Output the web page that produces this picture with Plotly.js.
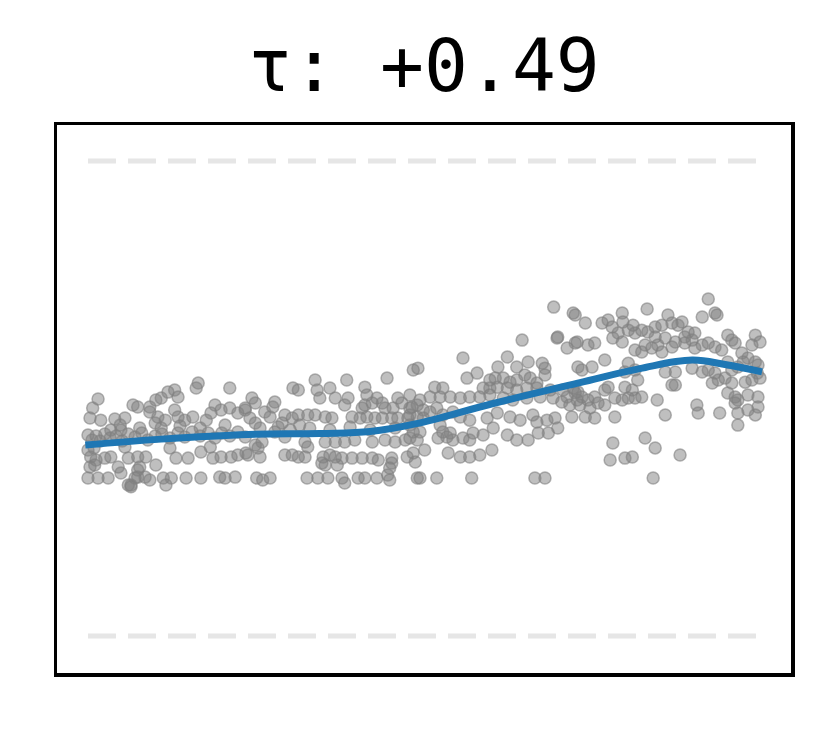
<!DOCTYPE html>
<html>
<head>
<meta charset="utf-8">
<script src="https://cdn.plot.ly/plotly-3.0.1.min.js"></script>
<style>
  html, body { margin: 0; padding: 0; background: #ffffff; }
  #chart { width: 830px; height: 731px; }
</style>
</head>
<body>
<div id="chart"></div>
<script>
// rank (0-100) vs standardized value; dashed guides sit at +/-1
const chartTitle = "τ: +0.49";
const guideLevels = [1, -1];

const earlyPoints = [
  [1.5,-0.002],[0.7,-0.04],[0.3,-0.082],[1.9,-0.091],[4.0,-0.086],[5.5,-0.082],[6.7,-0.027],[7.4,-0.036],[9.2,-0.036],[10.1,-0.006],
  [10.9,0.002],[11.9,0.027],[12.9,0.036],[13.4,0.006],[9.2,-0.057],[10.4,-0.078],[11.5,-0.091],[12.9,-0.048],[13.4,-0.078],[14.4,-0.091],
  [15.6,-0.078],[16.4,0.065],[16.1,0.044],[17.6,-0.091],[18.3,-0.061],[18.9,-0.027],[19.8,-0.048],[21.1,-0.04],[22.3,-0.061],[23.4,-0.048],
  [21.1,0.044],[10.0,-0.103],[10.9,-0.124],[3.4,-0.133],[4.9,-0.133],
  [0,-0.154],[0.6,-0.175],[1.2,-0.158],[1.8,-0.179],[2.5,-0.149],[3.3,-0.166],[4.2,-0.158],[5.1,-0.179],[6.0,-0.149],[7.0,-0.162],
  [8.0,-0.145],[8.9,-0.175],[10.0,-0.158],[11.0,-0.149],[12.2,-0.166],[13.4,-0.145],[14.4,-0.162],[15.5,-0.141],[16.7,-0.158],[17.9,-0.145],
  [18.9,-0.166],[19.9,-0.145],[21.1,-0.158],[22.3,-0.141],[23.4,-0.162],
  [4.8,-0.112],[7.7,-0.124],[13.7,-0.116],[16.7,-0.124],[20.4,-0.112],[5.5,-0.204],[12.2,-0.208],[18.2,-0.204],
  [0,-0.217],[0.9,-0.208],[0.4,-0.246],[1.2,-0.259],[2.5,-0.251],[3.4,-0.246],[0.3,-0.288],[1.0,-0.28],[6.0,-0.251],[7.4,-0.246],
  [8.6,-0.246],[4.5,-0.288],[4.9,-0.314],[7.7,-0.288],[7.4,-0.301],[10.1,-0.28],[13.1,-0.251],[14.9,-0.251],[16.8,-0.225],[18.6,-0.251],
  [19.8,-0.246],[21.3,-0.246],[22.3,-0.238],[23.5,-0.229],
  [0,-0.335],[1.5,-0.335],[3.0,-0.335],[6.4,-0.364],[7.0,-0.335],[7.4,-0.331],[8.5,-0.331],[9.2,-0.343],[11.2,-0.335],[11.6,-0.364],
  [12.4,-0.335],[14.6,-0.335],[16.8,-0.335],[19.6,-0.331],[20.4,-0.335],[21.9,-0.331],[6.0,-0.364],[6.4,-0.372]
];

const midLowPoints = [
  [33.8,0.078],[38.5,0.078],[44.5,0.086],[48.4,0.12],[30.5,0.044],[31.3,0.036],[34.1,0.036],[34.5,0.002],[36.0,0.044],[36.8,0.002],
  [41.2,0.048],[41.5,0.015],[24.4,0.002],[24.9,-0.019],[27.8,-0.015],[27.5,-0.036],[38.7,0.002],[38.2,-0.027],[40.8,-0.04],[41.2,-0.027],
  [42.3,-0.019],[43.0,0.002],[43.8,-0.019],[44.2,-0.04],[46.1,0.002],[46.7,-0.019],[48.2,-0.036],[45.4,-0.04],
  [29.3,-0.069],[30.4,-0.082],[31.3,-0.069],[32.7,-0.069],[33.8,-0.069],[35.3,-0.078],[36.3,-0.082],[39.3,-0.078],[40.5,-0.082],[41.5,-0.078],
  [42.7,-0.082],[43.8,-0.082],[45.2,-0.082],[46.1,-0.082],[47.6,-0.082],[23.4,-0.04],[24.1,-0.082],[24.9,-0.103],[26.3,-0.057],[27.1,-0.078],
  [28.3,-0.12],[28.9,-0.103],
  [25.6,-0.124],[30.1,-0.133],[33.0,-0.124],[36.0,-0.133],[39.0,-0.12],[42.0,-0.133],[45.7,-0.124],[31.5,-0.112],[27.8,-0.141],
  [25.9,-0.183],[29.3,-0.162],[32.3,-0.183],[32.7,-0.204],[35.3,-0.183],[36.8,-0.183],[38.2,-0.183],[39.7,-0.175],[42.3,-0.183],[44.2,-0.175],
  [45.7,-0.183],[47.2,-0.175],[24.9,-0.196],[25.3,-0.208],
  [23.8,-0.238],[25.6,-0.246],[29.3,-0.238],[30.4,-0.238],[31.3,-0.246],[32.3,-0.246],[35.0,-0.246],[36.0,-0.238],[36.8,-0.246],[37.8,-0.251],
  [39.3,-0.251],[40.8,-0.251],[42.3,-0.251],[43.2,-0.259],[45.2,-0.251],[47.5,-0.246],[48.7,-0.267],[34.8,-0.272],[35.3,-0.28],[37.1,-0.28],
  [45.2,-0.272],[44.9,-0.293],[44.6,-0.322],
  [25.1,-0.335],[26.0,-0.343],[27.1,-0.335],[32.6,-0.335],[34.2,-0.335],[35.7,-0.335],[37.8,-0.335],[38.2,-0.356],[40.2,-0.335],[41.2,-0.335],
  [43.0,-0.335],[44.9,-0.343],[49.0,-0.335]
];

const midHighPoints = [
  [64.6,0.246],[69.8,0.255],[71.3,0.213],[72.5,0.234],[55.8,0.171],[62.4,0.175],[61.0,0.133],[49.1,0.128],[63.8,0.133],[65.5,0.154],
  [67.6,0.149],[68.0,0.128],[68.0,0.099],[56.4,0.086],[57.9,0.107],[51.6,0.048],[52.8,0.044],[59.8,0.078],[60.6,0.086],[61.8,0.086],
  [62.8,0.069],[63.8,0.078],[65.0,0.099],[65.8,0.086],[66.8,0.065],[58.8,0.044],[59.8,0.044],[60.9,0.048],[62.4,0.044],[63.8,0.036],
  [65.3,0.044],[66.8,0.044],[68.8,0.036],[70.7,0.036],[72.2,0.044],[72.9,0.027],
  [47.9,0.015],[49.4,-0.006],[50.9,0.006],[52.4,0.006],[53.9,0.006],[55.4,0.002],[56.8,0.006],[58.3,0.006],[59.8,0.015],[61.8,0.002],
  [63.2,-0.006],[65.3,0.002],[67.3,0.006],[69.2,0.002],[71.3,0.006],[72.8,-0.006],
  [47.9,-0.04],[49.0,-0.027],[49.9,-0.048],[50.9,-0.057],[51.9,-0.04],[47.9,-0.069],[49.0,-0.078],[49.9,-0.082],[52.8,-0.069],[54.3,-0.057],
  [55.4,-0.078],[56.8,-0.091],[59.4,-0.082],[60.9,-0.061],[62.8,-0.078],[64.3,-0.091],[66.2,-0.069],[66.8,-0.099],[68.3,-0.091],[69.5,-0.082],
  [72.0,-0.078],
  [47.9,-0.112],[48.4,-0.141],[49.4,-0.141],[47.9,-0.166],[49.0,-0.175],[52.4,-0.112],[52.8,-0.141],[52.1,-0.166],[53.4,-0.162],[53.9,-0.145],
  [54.3,-0.175],[55.8,-0.166],[56.8,-0.175],[57.3,-0.145],[58.8,-0.154],[60.3,-0.124],[62.4,-0.154],[63.8,-0.175],[65.5,-0.175],[67.0,-0.145],
  [68.5,-0.145],[69.9,-0.124],
  [48.4,-0.229],[50.1,-0.217],[53.6,-0.229],[55.4,-0.246],[56.8,-0.246],[58.3,-0.238],[60.1,-0.217],
  [49.4,-0.335],[51.9,-0.335],[57.1,-0.335],[66.5,-0.335],[68.0,-0.335],
  [69.3,0.385],[72.2,0.36],[69.9,0.259],[71.7,-0.027],[70.5,-0.015]
];

const latePoints = [
  [92.3,0.419],[83.2,0.377],[72.5,0.352],[79.5,0.36],[79.6,0.322],[91.4,0.343],[93.3,0.36],[93.6,0.352],[86.3,0.352],[74.0,0.318],
  [76.5,0.318],[77.4,0.331],[78.0,0.301],[81.1,0.309],[80.4,0.288],[81.4,0.276],[82.4,0.288],[83.3,0.28],[84.4,0.301],[85.4,0.309],
  [86.9,0.318],[87.8,0.309],[88.4,0.322],[89.3,0.28],[90.3,0.276],[88.8,0.259],[89.9,0.246],[78.9,0.276],[78.1,0.255],[79.5,0.238],
  [72.8,0.238],[74.4,0.225],[75.4,0.234],[84.4,0.259],[85.9,0.255],[87.4,0.238],[86.9,0.217],[88.8,0.234],[90.3,0.213],[91.4,0.225],
  [92.3,0.234],[93.3,0.217],[94.3,0.204],[95.2,0.267],[95.8,0.246],[96.3,0.234],[99.3,0.267],[98.8,0.225],[100,0.238],
  [81.4,0.204],[82.4,0.196],[82.9,0.225],[83.9,0.213],[84.8,0.225],[85.4,0.196],[76.9,0.162],[75.0,0.133],[73.5,0.12],[72.9,0.133],
  [97.3,0.192],[98.2,0.171],[99.3,0.154],[97.5,0.154],[99.7,0.141],[96.7,0.133],[95.8,0.12],[95.2,0.154],
  [80.4,0.149],[79.9,0.112],[81.4,0.12],[85.9,0.112],[87.4,0.112],[89.9,0.128],[91.4,0.112],[92.3,0.12],[93.3,0.107],
  [93.8,0.078],[92.9,0.065],[94.8,0.086],[95.8,0.065],[97.8,0.069],[98.8,0.078],[99.6,0.107],[100,0.086],
  [81.8,0.078],[86.9,0.057],[87.4,0.057],[77.4,0.048],[79.9,0.048],[81.0,0.036],[76.9,0.036],
  [72.5,0.023],[73.5,0.006],[74.4,-0.006],[75.4,0.006],[75.9,-0.019],[78.4,0.002],[79.5,-0.006],[80.4,0.002],[81.4,0.002],[82.4,0.006],
  [73.2,-0.027],[74.7,-0.04],[76.9,-0.027],
  [95.2,0.023],[96.3,0.006],[96.7,-0.006],[98.2,0.015],[96.3,-0.019],[99.7,0.006],[99.7,-0.036],[98.2,-0.048],[99.3,-0.069],[96.7,-0.061],
  [84.7,-0.006],[90.6,-0.027],[90.8,-0.061],[74.0,-0.078],[75.4,-0.082],[78.4,-0.078],[85.9,-0.069],[94.0,-0.061],[96.7,-0.112],
  [78.1,-0.187],[77.7,-0.259],[79.9,-0.251],[81.0,-0.246],[82.9,-0.166],[84.4,-0.208],[88.1,-0.238],[84.1,-0.335]
];

// smoothed trend
const trendRank = [-0.4, 10.9, 23.8, 34.5, 42.0, 48.7, 60.3, 73.2, 82.1, 89.9, 94.8, 100.3];
const trendValue = [-0.196, -0.171, -0.151, -0.147, -0.139, -0.107, -0.021, 0.067, 0.126, 0.162, 0.143, 0.112];

const allPoints = earlyPoints.concat(midLowPoints, midHighPoints, latePoints);

const scatterTrace = {
  x: allPoints.map((p) => p[0]),
  y: allPoints.map((p) => p[1]),
  type: "scatter",
  mode: "markers",
  marker: {
    size: 12,
    color: "rgba(128,128,128,0.5)",
    line: { color: "rgba(128,128,128,0.6)", width: 1.5 },
  },
  hoverinfo: "skip",
};

const trendTrace = {
  x: trendRank,
  y: trendValue,
  type: "scatter",
  mode: "lines",
  line: { color: "#1f77b4", width: 7, shape: "spline", smoothing: 1.1 },
  hoverinfo: "skip",
};

const guideShapes = guideLevels.map((level) => ({
  type: "line",
  xref: "x",
  yref: "y",
  x0: 0,
  x1: 100,
  y0: level,
  y1: level,
  line: { color: "#e6e6e6", width: 5, dash: "28px,12px" },
  layer: "below",
}));

function frameAxis(range) {
  return {
    range: range,
    showline: true,
    mirror: true,
    linecolor: "#000000",
    linewidth: 3.5,
    showgrid: false,
    zeroline: false,
    showticklabels: false,
    ticks: "",
  };
}

const layout = {
  width: 830,
  height: 731,
  margin: { l: 57, r: 39, t: 125, b: 58 },
  paper_bgcolor: "#ffffff",
  plot_bgcolor: "#ffffff",
  title: {
    text: chartTitle,
    font: { family: "DejaVu Sans Mono", size: 73, color: "#000000" },
    x: 0.5,
    xref: "paper",
    xanchor: "center",
    y: 0.91,
    yref: "container",
    yanchor: "middle",
  },
  xaxis: frameAxis([-4.61, 104.61]),
  yaxis: frameAxis([-1.156, 1.152]),
  shapes: guideShapes,
  showlegend: false,
};

Plotly.newPlot("chart", [scatterTrace, trendTrace], layout, { displayModeBar: false, staticPlot: true });
</script>
</body>
</html>
